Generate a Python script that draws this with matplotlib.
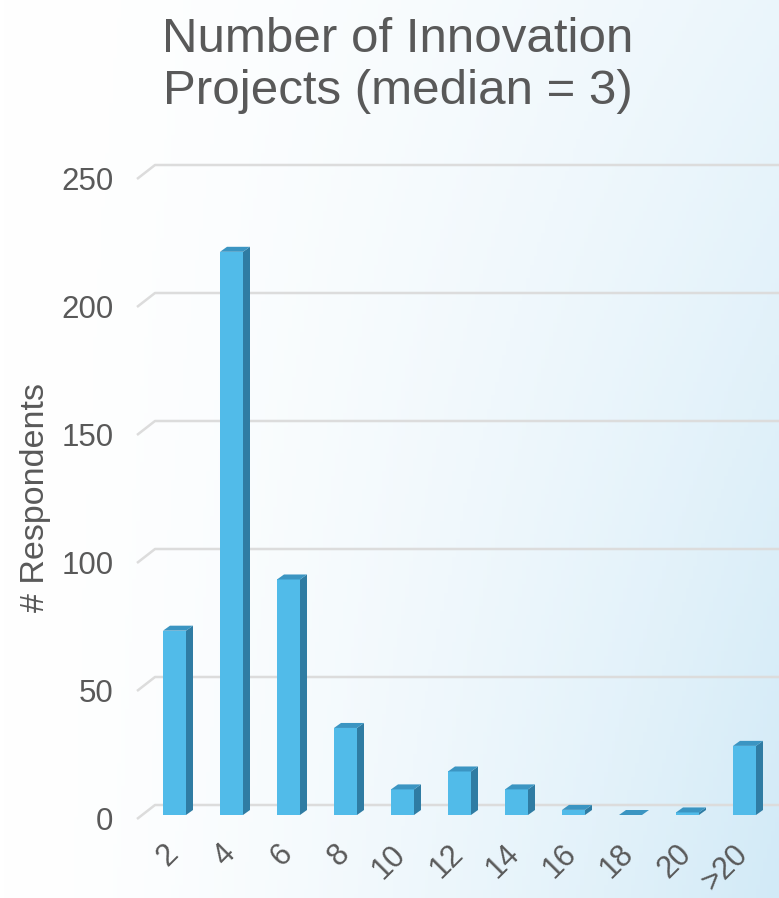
import numpy as np
import matplotlib
matplotlib.use('Agg')
import matplotlib.pyplot as plt
import matplotlib.transforms as mtransforms
from matplotlib.patches import Polygon

# data
categories = ['2', '4', '6', '8', '10', '12', '14', '16', '18', '20', '>20']
respondents = [72, 220, 92, 34, 10, 17, 10, 2, 0, 1, 27]
y_ticks = [0, 50, 100, 150, 200, 250]

W, H = 779, 898
plt.rcParams['font.family'] = ['Liberation Sans', 'DejaVu Sans']
TXT = '#595959'
FRONT = '#51bbe9'
SIDE = '#2f7ca3'
TOP = '#3b95c2'
GRID = '#dcdcdc'

fig = plt.figure(figsize=(W / 100, H / 100), dpi=100)

# background gradient, white on the left to pale blue bottom-right
bg = fig.add_axes([0, 0, 1, 1], zorder=-5)
xx, yy = np.meshgrid(np.linspace(0, 1, 200), np.linspace(0, 1, 200))
t = np.clip(xx ** 1.6 * (0.45 + 0.55 * yy), 0, 1)
c0 = np.array([1.0, 1.0, 1.0])
c1 = np.array([0xd2, 0xea, 0xf7]) / 255
img = c0[None, None, :] * (1 - t[..., None]) + c1[None, None, :] * t[..., None]
bg.imshow(img, extent=[0, 1, 0, 1], aspect='auto', origin='upper')
bg.axis('off')

# main axes: category i front centre at px 174.5 + 57*i, value 0 at px 815
step = 57.0
x0_px, x1_px = 130, 779
xlo = (x0_px - 174.5) / step
xhi = (x1_px - 174.5) / step
base_px = 815
ppu = 2.56  # pixels per respondent
top_px = base_px - 250 * ppu
ax = fig.add_axes([x0_px / W, (H - base_px) / H, (x1_px - x0_px) / W, (base_px - top_px) / H])
ax.set_xlim(xlo, xhi)
ax.set_ylim(0, 250)
ax.patch.set_alpha(0)
for s in ax.spines.values():
    s.set_visible(False)

# perspective gridlines (front corner -> back wall -> right edge)
gx_front = xlo + 7 / step
gx_back = xlo + 25 / step
for v in y_ticks:
    yf = v - 4 / ppu
    yb = v + 10 / ppu
    ax.plot([gx_front, gx_back, xhi], [yf, yb, yb], color=GRID, lw=1.8,
            clip_on=False, zorder=1, solid_capstyle='butt')

# bars with a little depth
x = np.arange(len(categories))
bw = 23 / step
ddx = 7 / step
ddy = 5 / ppu
ax.bar(x, respondents, width=bw, color=FRONT, zorder=3)
for xi, v in zip(x, respondents):
    r = xi + bw / 2
    l = xi - bw / 2
    side = Polygon([(r, 0), (r + ddx, ddy), (r + ddx, v + ddy), (r, v)],
                   closed=True, fc=SIDE, ec='none', zorder=3, clip_on=False)
    top = Polygon([(l, v), (r, v), (r + ddx, v + ddy), (l + ddx, v + ddy)],
                  closed=True, fc=TOP, ec='none', zorder=4, clip_on=False)
    ax.add_patch(side)
    ax.add_patch(top)

# y ticks sit on the front end of the gridlines
ax.set_yticks(y_ticks)
ax.set_yticklabels([str(v) for v in y_ticks])
ax.tick_params(axis='y', length=0, pad=12, labelsize=22.5, labelcolor=TXT)
shift = mtransforms.ScaledTranslation(0, -4 / 100, fig.dpi_scale_trans)
for lab in ax.get_yticklabels():
    lab.set_transform(lab.get_transform() + shift)

ax.set_xticks(x)
ax.set_xticklabels(categories, rotation=45, ha='right', va='center',
                   rotation_mode='anchor')
ax.tick_params(axis='x', length=0, pad=25, labelsize=22, labelcolor=TXT)
xshift = mtransforms.ScaledTranslation(-1 / 100, 0, fig.dpi_scale_trans)
for lab in ax.get_xticklabels():
    lab.set_transform(lab.get_transform() + xshift)

fig.text(398 / W, 1 - 65 / H, 'Number of Innovation\nProjects (median = 3)',
         ha='center', va='center', fontsize=35.5, color=TXT, linespacing=1.2)
fig.text(36 / W, 1 - 498 / H, '# Respondents', rotation=90,
         ha='center', va='center', fontsize=24.5, color=TXT)

fig.savefig('out.png', dpi=100)
